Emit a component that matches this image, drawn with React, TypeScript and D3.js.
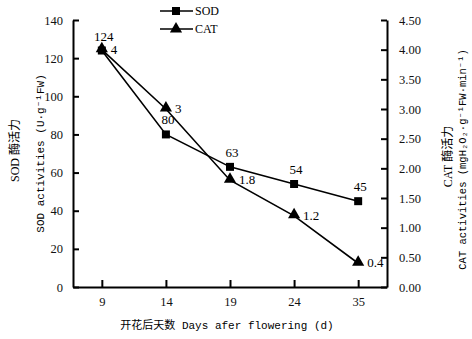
import { useEffect, useRef } from "react"
import * as d3 from "d3"

const days = ["9", "14", "19", "24", "35"]
const sod = [124, 80, 63, 54, 45]
const cat = [4, 3, 1.8, 1.2, 0.4]
const sodLabels = ["124", "80", "63", "54", "45"]
const catLabels = ["4", "3", "1.8", "1.2", "0.4"]
const leftTicks = [0, 20, 40, 60, 80, 100, 120, 140]
const rightTicks = [0, 0.5, 1, 1.5, 2, 2.5, 3, 3.5, 4, 4.5]

const serif = "Liberation Serif, Noto Sans CJK SC, serif"
const mono = "Liberation Mono, Noto Sans CJK SC, monospace"

export default function App() {
  const ref = useRef<SVGSVGElement>(null)

  useEffect(() => {
    if (!ref.current) return
    const svg = d3.select(ref.current)
    svg.selectAll("*").remove()

    const left = 73
    const right = 387
    const top = 20
    const bottom = 287

    const x = d3.scalePoint<string>().domain(days).range([left, right]).padding(0.45)
    const yL = d3.scaleLinear().domain([0, 140]).range([bottom, top])
    const yR = d3.scaleLinear().domain([0, 4.5]).range([bottom, top])

    const styleAxis = (ax: any) => {
      ax.attr("font-family", serif)
      ax.select(".domain").attr("stroke-width", 2)
      ax.selectAll(".tick line").attr("stroke-width", 2)
      ax.selectAll(".tick text").attr("font-size", 12.5).attr("font-family", serif).attr("fill", "#111")
    }

    // left axis
    svg.append("g")
      .attr("transform", `translate(${left},0)`)
      .call(d3.axisLeft(yL).tickValues(leftTicks).tickSizeInner(-6).tickSizeOuter(0).tickPadding(10))
      .call(styleAxis)

    // right axis
    svg.append("g")
      .attr("transform", `translate(${right},0)`)
      .call(
        d3.axisRight(yR).tickValues(rightTicks).tickSizeInner(-6).tickSizeOuter(0).tickPadding(12)
          .tickFormat((d) => d3.format(".2f")(d as number))
      )
      .call(styleAxis)

    // bottom axis
    svg.append("g")
      .attr("transform", `translate(0,${bottom})`)
      .call(d3.axisBottom(x).tickSizeInner(-7).tickSizeOuter(0).tickPadding(10))
      .call(styleAxis)

    // lines
    const sodLine = d3.line<number>().x((_, i) => x(days[i])!).y((d) => yL(d))
    svg.append("path").datum(sod).attr("fill", "none").attr("stroke", "#000").attr("stroke-width", 1.6).attr("d", sodLine)

    const catLine = d3.line<number>().x((_, i) => x(days[i])!).y((d) => yR(d))
    svg.append("path").datum(cat).attr("fill", "none").attr("stroke", "#000").attr("stroke-width", 1.6).attr("d", catLine)

    const sq = d3.symbol().type(d3.symbolSquare).size(64)
    const tri = d3.symbol().type(d3.symbolTriangle).size(64)

    svg.selectAll(".sod-pt").data(sod).join("path")
      .attr("transform", (d, i) => `translate(${x(days[i])},${yL(d)})`)
      .attr("d", sq)
      .attr("fill", "#000")

    svg.selectAll(".cat-pt").data(cat).join("path")
      .attr("transform", (d, i) => `translate(${x(days[i])},${yR(d) - 1})`)
      .attr("d", tri)
      .attr("fill", "#000")

    // labels
    svg.selectAll(".sod-lb").data(sod).join("text")
      .attr("x", (_, i) => x(days[i])! + 2)
      .attr("y", (d) => yL(d) - 10)
      .attr("text-anchor", "middle")
      .attr("font-size", 13)
      .attr("font-family", serif)
      .text((_, i) => sodLabels[i])

    svg.selectAll(".cat-lb").data(cat).join("text")
      .attr("x", (_, i) => x(days[i])! + 9)
      .attr("y", (d) => yR(d) + 4)
      .attr("font-size", 13)
      .attr("font-family", serif)
      .text((_, i) => catLabels[i])

    // legend
    const lg = svg.append("g")
    const rows = [
      { name: "SOD", sym: sq, y: 11 },
      { name: "CAT", sym: tri, y: 29 },
    ]
    rows.forEach((r) => {
      lg.append("line").attr("x1", 160).attr("x2", 193).attr("y1", r.y).attr("y2", r.y).attr("stroke", "#000").attr("stroke-width", 1.6)
      lg.append("path").attr("transform", `translate(176,${r.y})`).attr("d", r.sym).attr("fill", "#000")
      lg.append("text").attr("x", 195).attr("y", r.y + 4).attr("font-size", 12).attr("font-family", serif).text(r.name)
    })

    // axis titles
    const cy = (top + bottom) / 2
    svg.append("text")
      .attr("transform", `translate(19,${cy - 3}) rotate(-90)`)
      .attr("text-anchor", "middle")
      .attr("font-size", 12)
      .attr("font-family", serif)
      .text("SOD 酶活力")
    svg.append("text")
      .attr("transform", `translate(44,${cy}) rotate(-90)`)
      .attr("text-anchor", "middle")
      .attr("font-size", 11)
      .attr("font-family", mono)
      .text("SOD activities (U·g⁻¹FW)")

    svg.append("text")
      .attr("transform", `translate(452,${cy + 3}) rotate(-90)`)
      .attr("text-anchor", "middle")
      .attr("font-size", 12)
      .attr("font-family", serif)
      .text("CAT 酶活力")
    svg.append("text")
      .attr("transform", `translate(466,${cy + 6}) rotate(-90)`)
      .attr("text-anchor", "middle")
      .attr("font-size", 10.5)
      .attr("font-family", mono)
      .text("CAT activities (mgH₂O₂·g⁻¹FW·min⁻¹)")

    svg.append("text")
      .attr("x", (left + right) / 2 - 3)
      .attr("y", 329)
      .attr("text-anchor", "middle")
      .attr("font-size", 11)
      .attr("font-family", mono)
      .text("开花后天数 Days afer flowering (d)")
  }, [])

  return (
    <svg
      ref={ref}
      width={472}
      height={339}
      style={{ position: "absolute", left: 0, top: 0, background: "#fff" }}
    />
  )
}
